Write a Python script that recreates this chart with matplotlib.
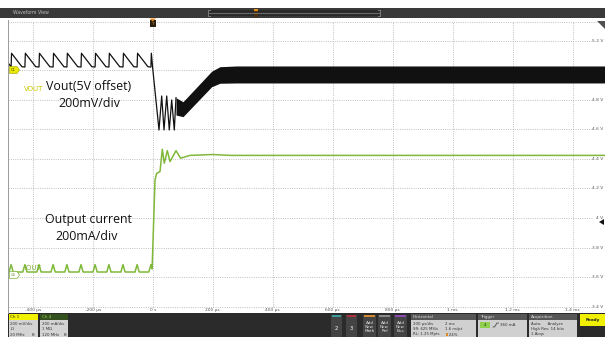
import matplotlib
matplotlib.use("Agg")
import matplotlib.pyplot as plt
from matplotlib.patches import Rectangle, Polygon

W, H = 605, 337

# axis ticks (time in µs, Ch1 scale in V)
time_ticks = [-400, -200, 0, 200, 400, 600, 800, 1000, 1200, 1400]
time_tick_labels = ["-400 µs", "-200 µs", "0 s", "200 µs", "400 µs", "600 µs",
                    "800 µs", "1 ms", "1.2 ms", "1.4 ms"]
volt_ticks = [3.4, 3.6, 3.8, 4.0, 4.2, 4.4, 4.6, 4.8, 5.0, 5.2]
volt_tick_labels = ["3.4 V", "3.6 V", "3.8 V", "4 V", "4.2 V", "4.4 V", "4.6 V",
                    "4.8 V", "5 V", "5.2 V"]

# Vout before the load step + ringing right after it (µs, V)
vout_t = [-482, -472, -470.5, -436, -426, -424.5, -390, -379, -377.5, -343,
          -332, -330.5, -296, -286, -284.5, -250, -239, -237.5, -203, -192,
          -190.5, -156, -146, -144.5, -110, -99, -97.5, -63, -52, -50.5,
          -16, -6, -4.5, 0, 21, 30, 37.7, 46.7, 55.3, 63.3, 72, 77.7]
vout_v = [5.05, 5.022, 5.115, 5.024, 5.022, 5.115, 5.024, 5.022, 5.115, 5.024,
          5.022, 5.115, 5.024, 5.022, 5.115, 5.024, 5.022, 5.115, 5.024, 5.022,
          5.115, 5.024, 5.022, 5.115, 5.024, 5.022, 5.115, 5.024, 5.022, 5.115,
          5.024, 5.022, 5.115, 5.013, 4.596, 4.826, 4.596, 4.826, 4.596, 4.799,
          4.596, 4.814]

# envelope of the switching-ripple band after recovery (µs, V)
band_t = [77.7, 101, 196.7, 224, 280, 1508]
band_top = [4.814, 4.787, 4.994, 5.024, 5.029, 5.029]
band_bot = [4.697, 4.686, 4.889, 4.912, 4.914, 4.914]

# Iout (µs, mA), 200 mA/div
iout_t = [-482, -479, -472, -465, -433, -426, -419, -386, -379, -372,
          -339, -332, -325, -293, -286, -279, -246, -239, -232, -199,
          -192, -185, -153, -146, -139, -106, -99, -92, -59, -52,
          -45, -13, -6, -2, 7.7, 13.3, 24.3, 32, 38.7, 48.7,
          57.7, 77.7, 93, 124, 200, 260, 1508]
iout_ma = [20, 20, 70, 20, 20, 70, 20, 20, 70, 20,
           20, 70, 20, 20, 70, 20, 20, 70, 20, 20,
           70, 20, 20, 70, 20, 20, 70, 20, 20, 70,
           20, 20, 70, 40, 643, 688, 699, 850, 756, 841,
           767, 841, 790, 809, 815, 809, 809]
IOUT_ZERO = 3.615  # screen position of the Ch4 zero marker


def px_t(x):
    return (x - 152.7) * 10 / 3


def px_v(y):
    return 5.2 - (y - 40.7) / 29.56 * 0.2


fig = plt.figure(figsize=(W / 100, H / 100), dpi=100)
fig.patch.set_facecolor("white")

# main waveform area
ax = fig.add_axes([8 / W, (H - 313) / H, (W - 8) / W, (313 - 20) / H])
ax.set_xlim(px_t(8), px_t(605))
ax.set_ylim(px_v(313), px_v(20))
ax.set_facecolor("white")
for s in ax.spines.values():
    s.set_visible(False)
ax.set_xticks([])
ax.set_yticks([])

grid_kw = dict(color="#b8b8b8", lw=0.6, linestyles=(0, (1.2, 1.5)), zorder=1)
ax.vlines(time_ticks, px_v(307), px_v(22), **grid_kw)
ax.hlines(volt_ticks, px_t(8), px_t(593), **grid_kw)
ax.hlines([px_v(22)], px_t(8), px_t(605), **grid_kw)

ax.plot(vout_t, vout_v, color="#111111", lw=0.9, zorder=3)
ax.fill_between(band_t, band_bot, band_top, color="#111111", lw=0, zorder=3)
ax.plot(iout_t, [IOUT_ZERO + m / 1000 for m in iout_ma], color="#80b83a",
        lw=1.1, zorder=3)

for t, lab in zip(time_ticks, time_tick_labels):
    ax.text(t, px_v(310.5), lab, ha="center", va="center", fontsize=3.2,
            color="#555555", zorder=4)
for v, lab in zip(volt_ticks, volt_tick_labels):
    ax.text(px_t(603.5), v, lab, ha="right", va="center", fontsize=3.2,
            color="#555555", zorder=2)

big = dict(ha="center", va="center", fontsize=8.9, family="Open Sans",
           color="#111111", zorder=5)
ax.text(px_t(89), px_v(86.7), "Vout(5V offset)", **big)
ax.text(px_t(89), px_v(103.3), "200mV/div", **big)
ax.text(px_t(88), px_v(219), "Output current", **big)
ax.text(px_t(87), px_v(237), "200mA/div", **big)
ax.text(px_t(34), px_v(89.5), "VOUT", ha="center", va="center", fontsize=5,
        color="#c8c800", zorder=5, family="Liberation Sans Narrow")
ax.text(px_t(33), px_v(268), "IOUT", ha="center", va="center", fontsize=5,
        color="#7cb236", zorder=5, family="Liberation Sans Narrow")

# screen chrome in pixel coordinates
ov = fig.add_axes([0, 0, 1, 1], facecolor="none")
ov.set_xlim(0, W)
ov.set_ylim(H, 0)
ov.axis("off")


def box(x0, y0, x1, y1, color, **kw):
    ov.add_patch(Rectangle((x0, y0), x1 - x0, y1 - y0, color=color, lw=0, **kw))


# title bar
box(0, 8, W, 18, "#3a3a3a")
ov.text(13, 13, "Waveform View", fontsize=3.3, color="#bdbdbd", va="center")
box(208, 10, 380, 16, "#2a2a2a")
ov.plot([210, 208, 208, 210], [10, 10, 16, 16], color="#8a8a8a", lw=0.6)
ov.plot([378, 380, 380, 378], [10, 10, 16, 16], color="#8a8a8a", lw=0.6)
ov.plot([209, 379], [13, 13], color="#6a6a6a", lw=0.8)
box(254, 10, 258, 17, "#4a3010")
box(254, 9, 258, 11, "#e08a20")

# left border, trigger marker, corner
ov.plot([8, 8], [20, 313], color="#9a9a9a", lw=0.7)
box(150, 20, 155.5, 27, "#2a2010")
ov.add_patch(Polygon([[149.5, 18.5], [156, 18.5], [152.7, 21.5]], color="#e08a20", lw=0))
ov.text(152.7, 24, "T", fontsize=3, color="#e08a20", ha="center", va="center")
ov.add_patch(Polygon([[597, 21], [605, 21], [605, 29]], color="#505050", lw=0))

# channel markers
ov.add_patch(Polygon([[9.5, 66.5], [17, 66.5], [19.5, 70], [17, 73.5], [9.5, 73.5]],
                     facecolor="#e8e800", edgecolor="#a0a000", lw=0.4, zorder=6))
ov.text(13.5, 70, "C1", fontsize=2.6, color="#404000", ha="center", va="center", zorder=7)
ov.add_patch(Polygon([[9.5, 271.5], [17, 271.5], [19.5, 275], [17, 278.5], [9.5, 278.5]],
                     facecolor="white", edgecolor="#7cb236", lw=0.5, zorder=6))
ov.text(13.5, 275, "C4", fontsize=2.6, color="#5a8a20", ha="center", va="center", zorder=7)
ov.add_patch(Polygon([[599, 222], [604, 219], [604, 225]], color="#111111", lw=0, zorder=6))

# bottom control panel
box(8, 313, W, H, "#2b2b2b")

box(9, 313.5, 38, 320, "#f2f200")
ov.text(10.5, 316.8, "Ch 1", fontsize=3, color="#333300", va="center")
box(9, 320, 38, H, "#d4d4d4")
for yy, s in zip([324, 329, 334.5], ["200 mV/div", "Ω", "20 MHz      B"]):
    ov.text(10.5, yy, s, fontsize=2.8, color="#333333", va="center")

box(40, 313.5, 68, 320, "#34501f")
ov.text(41.5, 316.8, "Ch 4", fontsize=3, color="#9ad450", va="center")
box(40, 320, 68, H, "#d4d4d4")
for yy, s in zip([324, 329, 334.5], ["200 mA/div", "1 MΩ", "120 MHz    B"]):
    ov.text(41.5, yy, s, fontsize=2.8, color="#333333", va="center")

for x0, col, lab in [(331, "#3a9a9a", "2"), (346, "#b03040", "3")]:
    box(x0, 314.5, x0 + 11, H, "#444444")
    box(x0 + 1, 315, x0 + 10, 317, col)
    ov.text(x0 + 5.5, 328, lab, fontsize=3.8, color="white", ha="center", va="center")

for x0, col, lab in [(363, "#d08a30", "Math"), (378, "#8a8a8a", "Ref"), (394, "#8a4ab0", "Bus")]:
    box(x0, 314.5, x0 + 13, H, "#444444")
    box(x0 + 1, 315, x0 + 12, 317, col)
    ov.text(x0 + 6.5, 327.5, "Add\nNew\n" + lab, fontsize=3, color="#e0e0e0",
            ha="center", va="center", linespacing=1.0)

box(411, 313.5, 476, 320, "#565656")
ov.text(413, 316.8, "Horizontal", fontsize=3, color="#e0e0e0", va="center")
box(411, 320, 476, H, "#d0d0d0")
for yy, a, b in [(324, "200 µs/div", "2 ms"), (329, "SR: 625 MS/s", "1.6 ns/pt"),
                 (334.5, "RL: 1.25 Mpts", "   24%")]:
    ov.text(413, yy, a, fontsize=2.8, color="#333333", va="center")
    ov.text(445, yy, b, fontsize=2.8, color="#333333", va="center")
box(445.5, 333, 448, 335.5, "#e08a20")

box(478, 313.5, 527, 320, "#565656")
ov.text(480, 316.8, "Trigger", fontsize=3, color="#e0e0e0", va="center")
box(478, 320, 527, H, "#d0d0d0")
box(480, 322, 490, 328, "#8fd14f")
ov.text(485, 325, "4", fontsize=3, color="#203010", ha="center", va="center")
# rising-edge slope icon
ov.plot([493, 494.5, 497, 498.5], [327, 327, 323, 323], color="#333333", lw=0.5)
ov.text(500.5, 325, "360 mA", fontsize=2.9, color="#333333", va="center")

box(529, 313.5, 577, 320, "#565656")
ov.text(531, 316.8, "Acquisition", fontsize=3, color="#e0e0e0", va="center")
box(529, 320, 577, H, "#d0d0d0")
for yy, s in [(324, "Auto,     Analyze"), (329, "High Res: 14 bits"), (334.5, "1 Acqs")]:
    ov.text(531, yy, s, fontsize=2.8, color="#333333", va="center")

box(580, 313.5, W, 326, "#f0f000")
ov.text(592.5, 319.5, "Ready", fontsize=3, color="#222222", ha="center",
        va="center", weight="bold")

fig.savefig("out.png", dpi=100, facecolor=fig.get_facecolor())
